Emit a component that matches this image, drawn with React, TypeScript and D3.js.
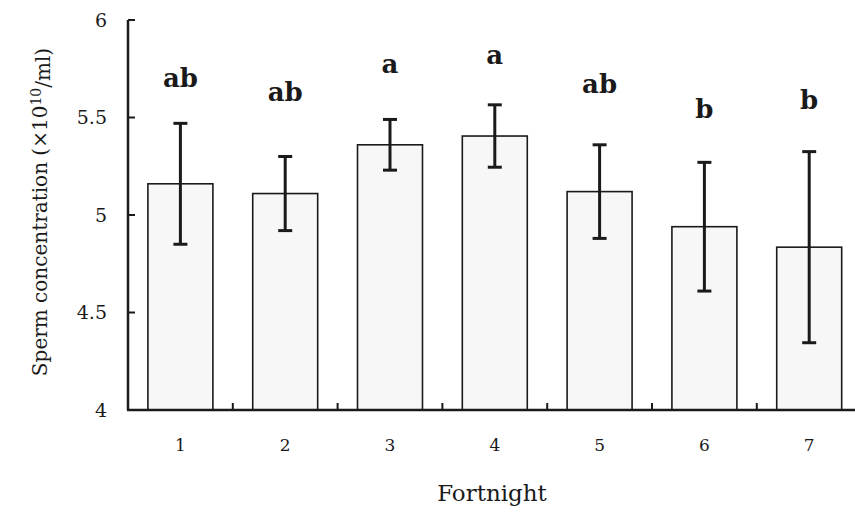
import React, { useEffect, useRef } from 'react';
import * as d3 from 'd3';

const fortnights = ['1', '2', '3', '4', '5', '6', '7'];
const meanValues = [5.16, 5.11, 5.36, 5.405, 5.12, 4.94, 4.835];
const errorValues = [0.31, 0.19, 0.13, 0.16, 0.24, 0.33, 0.49];
const groupLetters = ['ab', 'ab', 'a', 'a', 'ab', 'b', 'b'];
const letterLevels = [5.656, 5.585, 5.728, 5.774, 5.626, 5.497, 5.544];
const yTicks = [4, 4.5, 5, 5.5, 6];

const App = () => {
  const svgRef = useRef<SVGSVGElement>(null);

  useEffect(() => {
    const svg = d3.select(svgRef.current);
    svg.selectAll('*').remove();

    const font = '"DejaVu Serif", "Liberation Serif", serif';
    const ink = '#1a1a1a';
    const x0 = 128;

    const xScale = d3.scaleBand()
      .domain(fortnights)
      .range([x0, x0 + 7 * 104.8])
      .paddingInner(0.38)
      .paddingOuter(0.19);

    const yScale = d3.scaleLinear().domain([4, 6]).range([410, 20]);

    const data = fortnights.map((f, i) => ({
      f, mean: meanValues[i], err: errorValues[i], letter: groupLetters[i], level: letterLevels[i],
    }));

    // bars
    svg.selectAll('.bar')
      .data(data)
      .enter()
      .append('rect')
      .attr('x', d => xScale(d.f)!)
      .attr('y', d => yScale(d.mean))
      .attr('width', xScale.bandwidth())
      .attr('height', d => yScale(4) - yScale(d.mean))
      .attr('fill', '#f7f7f7')
      .attr('stroke', ink)
      .attr('stroke-width', 1.6);

    // error bars
    const cx = (d: any) => xScale(d.f)! + xScale.bandwidth() / 2;
    const eb = svg.append('g').attr('stroke', ink).attr('stroke-width', 3);
    data.forEach(d => {
      eb.append('line')
        .attr('x1', cx(d)).attr('x2', cx(d))
        .attr('y1', yScale(d.mean + d.err)).attr('y2', yScale(d.mean - d.err));
      [d.mean + d.err, d.mean - d.err].forEach(v => {
        eb.append('line')
          .attr('x1', cx(d) - 7).attr('x2', cx(d) + 7)
          .attr('y1', yScale(v)).attr('y2', yScale(v));
      });
    });

    // letters
    svg.selectAll('.letter')
      .data(data)
      .enter()
      .append('text')
      .attr('x', d => cx(d))
      .attr('y', d => yScale(d.level))
      .attr('text-anchor', 'middle')
      .style('font-family', font)
      .style('font-weight', 'bold')
      .style('font-size', '26px')
      .style('fill', ink)
      .text(d => d.letter);

    // y axis
    svg.append('line')
      .attr('x1', x0).attr('x2', x0)
      .attr('y1', yScale(6)).attr('y2', yScale(4))
      .attr('stroke', ink).attr('stroke-width', 2.5);
    yTicks.forEach(t => {
      svg.append('line')
        .attr('x1', x0).attr('x2', x0 + 7)
        .attr('y1', yScale(t)).attr('y2', yScale(t))
        .attr('stroke', ink).attr('stroke-width', 2);
      svg.append('text')
        .attr('x', 107)
        .attr('y', yScale(t))
        .attr('dy', '0.35em')
        .attr('text-anchor', 'end')
        .style('font-family', font)
        .style('font-size', '19px')
        .style('fill', ink)
        .text(String(t));
    });

    // x axis
    svg.append('line')
      .attr('x1', x0 - 1).attr('x2', 855)
      .attr('y1', yScale(4)).attr('y2', yScale(4))
      .attr('stroke', ink).attr('stroke-width', 2.5);
    fortnights.slice(1).forEach(f => {
      const tx = xScale(f)! - xScale.step() * xScale.paddingInner() / 2;
      svg.append('line')
        .attr('x1', tx).attr('x2', tx)
        .attr('y1', yScale(4)).attr('y2', yScale(4) - 7)
        .attr('stroke', ink).attr('stroke-width', 2);
    });
    data.forEach(d => {
      svg.append('text')
        .attr('x', cx(d))
        .attr('y', 445)
        .attr('dy', '0.35em')
        .attr('text-anchor', 'middle')
        .style('font-family', font)
        .style('font-size', '17px')
        .style('fill', ink)
        .text(d.f);
    });

    svg.append('text')
      .attr('x', 492)
      .attr('y', 493)
      .attr('dy', '0.35em')
      .attr('text-anchor', 'middle')
      .style('font-family', font)
      .style('font-size', '23px')
      .style('fill', ink)
      .text('Fortnight');

    const yt = svg.append('text')
      .attr('transform', 'translate(40, 212) rotate(-90)')
      .attr('dy', '0.35em')
      .attr('text-anchor', 'middle')
      .style('font-family', font)
      .style('font-size', '20px')
      .style('fill', ink);
    yt.append('tspan').text('Sperm concentration (×10');
    yt.append('tspan').attr('dy', '-0.45em').style('font-size', '14px').text('10');
    yt.append('tspan').attr('dy', '0.45em').text('/ml)');
  }, []);

  return (
    <svg ref={svgRef} width={855} height={512}
      style={{ position: 'absolute', left: 0, top: 0, background: '#fff' }} />
  );
};

export default App;
